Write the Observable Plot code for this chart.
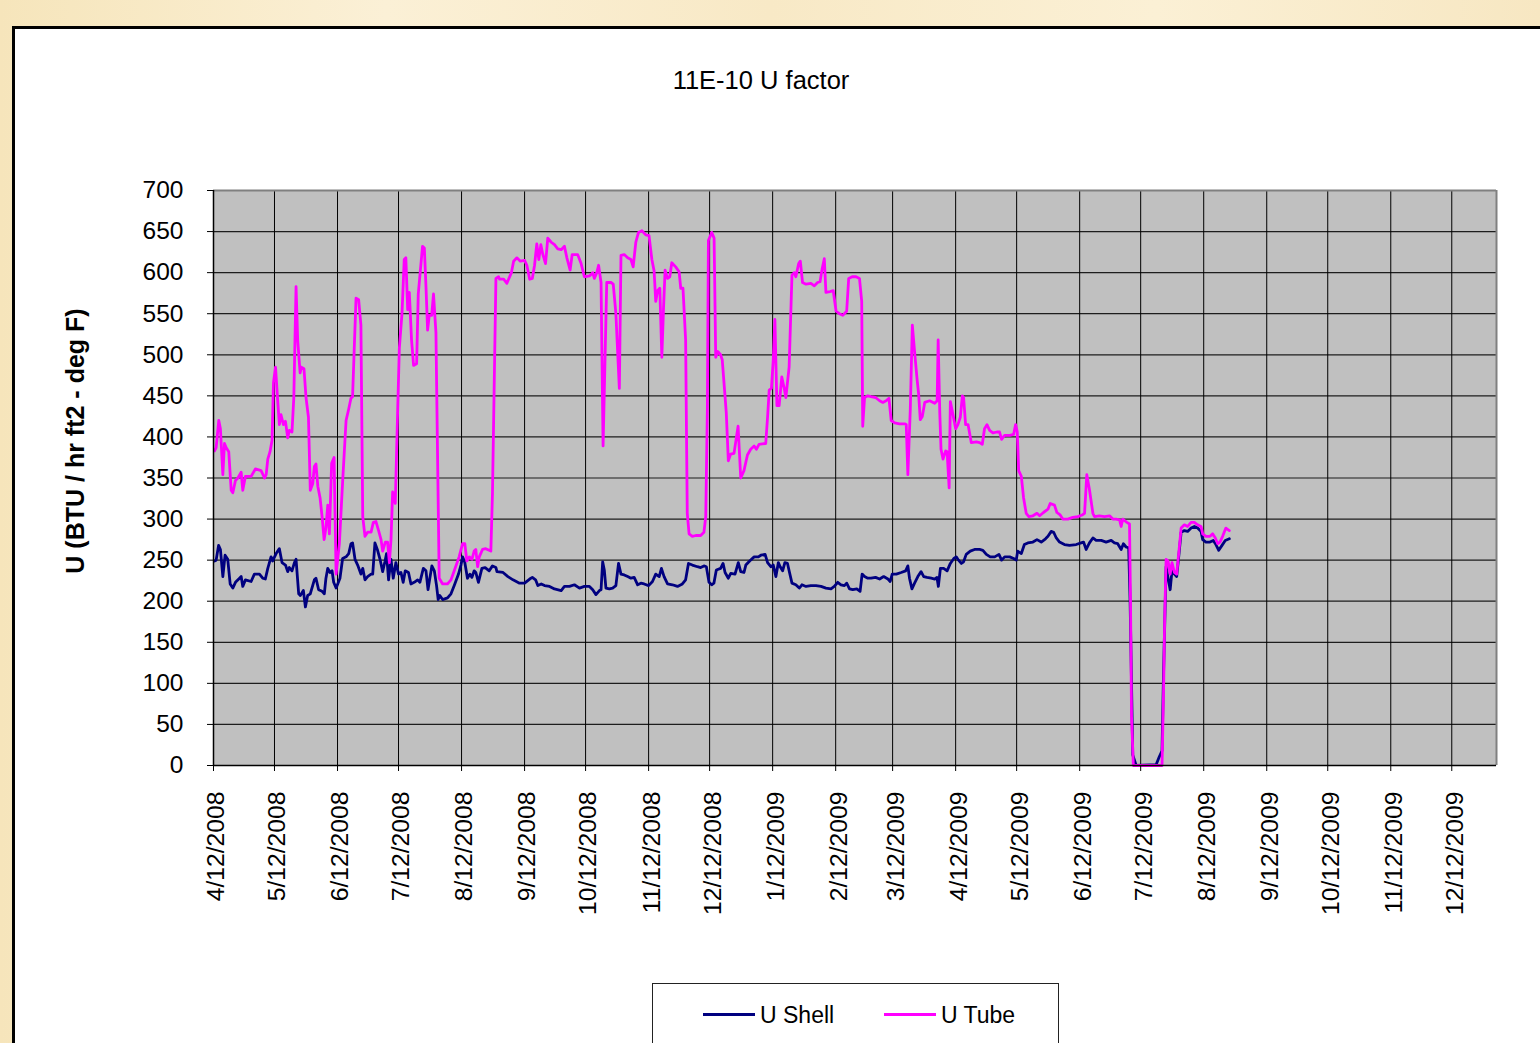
<!DOCTYPE html>
<html>
<head>
<meta charset="utf-8">
<script src="https://cdn.jsdelivr.net/npm/d3@7"></script>
<script src="https://cdn.jsdelivr.net/npm/@observablehq/plot@0.6"></script>
<style>
html,body{margin:0;padding:0;width:1540px;height:1043px;overflow:hidden;
  background:linear-gradient(90deg,#F6E5BB 0%,#FBF0D6 25%,#F8E9C6 50%,#FBF0D5 75%,#F7E7C2 100%);
  font-family:"Liberation Sans",Arial,sans-serif;}
#frame{position:absolute;left:12px;top:26px;width:1560px;height:1100px;border:3px solid #000;background:#fff;box-sizing:border-box;}
#chart{position:absolute;left:0;top:0;}
#title{position:absolute;left:0;width:1522px;top:66px;text-align:center;font-size:25.5px;line-height:28px;color:#000;}
#ylabel{position:absolute;left:75px;top:441px;transform:translate(-50%,-50%) rotate(-90deg);font-size:25px;font-weight:bold;white-space:nowrap;line-height:28px;color:#000;}
#legend{position:absolute;left:652px;top:983px;width:407px;height:120px;border:1px solid #222;background:#fff;box-sizing:border-box;}
#legend .sw{position:absolute;height:3px;width:52px;top:29px;}
#legend .lb{position:absolute;top:17px;font-size:23px;line-height:28px;white-space:nowrap;color:#000;}
</style>
</head>
<body>
<div id="frame"></div>
<div id="chart"></div>
<div id="title"></div>
<div id="ylabel"></div>
<div id="legend"></div>
<script>
// ---- data (days since 4/12/2008, values in BTU / hr ft2 - deg F) ----
const titleText = "11E-10 U factor";
const yLabelText = "U (BTU / hr ft2 - deg F)";
const seriesNames = ["U Shell", "U Tube"];
const seriesColors = ["#000080", "#FF00FF"];
const tickLabels = ["4/12/2008","5/12/2008","6/12/2008","7/12/2008","8/12/2008","9/12/2008","10/12/2008","11/12/2008","12/12/2008","1/12/2009","2/12/2009","3/12/2009","4/12/2009","5/12/2009","6/12/2009","7/12/2009","8/12/2009","9/12/2009","10/12/2009","11/12/2009","12/12/2009"];
const yTicks = [0,50,100,150,200,250,300,350,400,450,500,550,600,650,700];
const axisEndDay = 631;

const tubeDays = [0.5,1.3,2.6,3.4,4.6,5.4,6.2,7.5,8.7,9.5,10.8,12.0,13.6,14.4,15.7,18.5,20.6,23.4,25.1,25.9,26.7,27.8,28.8,29.5,30.5,31.6,32.4,33.2,34.4,35.4,36.5,37.3,38.6,39.5,40.6,41.4,42.6,43.2,44.5,45.5,46.7,47.6,48.8,49.6,50.4,51.3,52.4,53.4,54.4,55.3,56.2,57.0,58.1,59.3,60.3,60.7,61.9,63.5,65.2,66.5,67.6,68.4,69.3,70.1,71.4,72.5,73.4,74.5,75.8,77.5,78.6,79.9,81.2,82.4,83.2,84.5,85.6,86.5,87.3,88.1,89.4,90.6,91.4,92.7,93.8,94.6,95.5,96.3,97.4,98.4,99.9,100.7,102.8,103.7,104.5,105.3,106.1,107.3,108.2,109.4,111.0,112.7,115.1,116.8,118.4,120.8,122.5,123.6,124.6,125.8,127.1,128.2,129.0,129.9,130.7,132.3,133.9,136.4,137.2,138.9,140.2,
140.7,142.7,144.3,146.5,147.6,149.2,150.9,153,154.1,155.5,156.8,157.9,159,160,161,161.9,163.3,164.4,166.1,167.7,169.3,171,172.6,173.8,175.4,176.4,179.1,180.8,182.4,184.9,186.5,187.3,188.5,189.4,190.6,191.6,193.4,195.5,196.6,197.9,199.6,200.4,202,203.7,205.3,206.4,207.7,209,210.7,212.6,214.2,215.6,216.7,217.5,218.4,219.5,220.5,221.3,222.1,223.3,224.4,225.4,227.3,229,229.8,230.9,232.2,233,233.9,235.5,237.2,239.6,241.2,242.1,242.9,243.4,245,246.2,247,248,249.4,250.2,251.5,252.2,253.2,254.3,256,258,
259.3,260.9,262.6,264.2,265.9,267,268.3,271.6,272.5,273.3,274.4,275.3,276.1,277.1,278.2,279.5,280.7,281.5,283.1,284.5,285.6,286.4,287.8,288.6,289.7,291.4,293.8,295.5,297.1,298.3,299.3,300.4,301.2,303.2,304.8,306.2,307.8,309.5,311.4,312.4,314.1,316,317.7,318.8,319.3,320.2,321.8,323.4,325.6,327.6,329.2,330.8,332.2,333.3,335,337.4,339.9,340.7,341.5,342.7,343.7,344.8,346,346.8,347.6,348.6,349.8,352.2,354.7,355.9,356.4,357.2,357.8,358.8,360.1,360.8,361.8,362.4,363.7,365,
366.1,367.3,368.3,368.9,369.9,371.1,372.7,375.2,376.8,378.1,379.2,380.4,381.7,383.3,385.3,386.6,387.6,389.1,391.6,393.5,394.5,395.3,396,397.3,398.4,399.7,401,403,405,406.3,408.2,410.4,411.5,413.6,414.8,416.4,417.7,420.2,422.6,425.1,427.2,428.4,429.5,430.8,432.5,433.3,435.7,438.2,440.7,442.3,443.9,445.6,446.4,447.2,448.2,449.2,450.5,451,451.5,452.4,466.5,467.2,467.8,468.5,469.5,470.5,471.4,472.6,473.7,474.7,475.9,477.5,479.1,480.8,482.4,484,485.7,486.5,488.1,490.1,491.4,492.7,493.9,495,496.3,497.9,499.6];
const tubeValues = [383,387,420,410,354,392,387,382,335,332,347,350,357,335,352,352,361,359,350,354,373,382,396,466,485,443,415,427,415,419,399,408,406,448,583,518,478,485,483,448,424,335,343,364,367,340,326,303,275,289,317,282,368,375,233,242,270,345,420,434,447,449,513,569,567,536,303,279,284,284,296,297,286,275,261,272,272,247,275,333,319,434,508,550,616,618,555,576,518,487,489,574,632,630,583,530,548,548,574,527,228,221,221,226,237,254,270,270,249,254,251,261,263,242,254,263,264,261,331,593,595,
592,592,587,600,614,618,614,615,609,592,593,609,635,616,634,623,611,642,637,634,629,628,632,618,603,622,622,611,595,596,600,593,600,609,588,389,588,588,586,550,459,621,622,618,616,607,637,649,651,646,645,616,602,565,578,581,497,555,603,593,595,612,607,601,581,581,518,307,282,279,280,280,284,303,434,639,649,642,497,504,500,494,452,429,371,379,380,413,
350,359,378,385,389,385,391,392,424,457,459,494,543,438,438,473,459,448,485,597,600,595,611,614,588,586,587,584,588,589,604,617,576,577,578,553,550,548,553,593,595,595,593,565,413,448,450,449,448,444,442,444,447,420,417,416,416,415,354,434,536,504,471,452,421,425,442,444,441,444,518,429,385,373,383,382,338,443,427,410,
415,424,450,448,415,415,393,394,393,391,410,415,408,405,406,406,397,402,402,403,415,406,359,352,326,307,303,304,307,304,308,312,319,317,308,305,300,300,302,303,305,307,354,336,307,303,304,303,304,300,300,299,291,300,298,296,294,200,60,0,0,83,177,251,249,233,247,235,233,258,289,293,291,296,296,293,291,282,279,279,282,277,270,272,279,289,286];

const shellDays = [0.5,1.3,2.5,3.4,4.6,5.7,7,8.2,9.5,10.8,12.8,13.6,14.4,15.7,18.5,20.1,22.6,24.2,25.5,26.7,28.3,29.1,30.8,32.4,33.7,35.4,36.5,37.3,38.6,39.8,40.6,41.9,42.7,44.2,45.2,46.3,47.6,49.6,50.4,51.7,53.4,54.5,55.3,56.2,57.3,58.3,59.1,60.3,61.1,62.2,63.5,65.2,66.5,67.6,68.4,69.6,70.9,72.5,73.4,74.5,75.8,77.5,78.3,79.4,80.7,81.9,83.2,84.3,85.1,86.1,87.3,88.4,89.7,91,92.2,93.3,94.3,95.9,97.1,98.7,100.4,101.5,103.2,104.5,105.5,106.4,107.4,108.6,109.7,110.5,111.3,112.7,115.1,116.8,118.4,120.5,121.7,122.5,123.6,124.9,126.1,127.1,128.2,129,130.3,132,133.6,135.6,137.2,138.9,
139.4,142.4,144.8,147.3,150.5,153,155.5,156.8,158.4,159.5,161.2,162.8,165.3,167.7,171,172.6,175.1,177.5,180,182.4,184.9,186.5,188.1,189.8,190.6,191.4,192.2,193,194.7,196.3,197.9,199.2,200.4,202,203.7,205.3,206.9,208.6,210.2,211.8,214,215.9,217.5,219.2,220.3,221.6,223.3,225.7,228.2,230.6,232.2,233.6,235.5,238,239.6,241.2,242.4,
243.7,245,246.1,247.3,249.4,250.6,251.6,253.2,254.4,256.5,258.1,259.3,260.9,261.8,263.7,265.9,268,269.2,271.3,272.5,274.1,275.3,276.6,277.8,278.7,279.9,281,282.3,283.1,284.5,286.4,288.1,289.4,291.4,293.8,296.3,298.8,301.2,303.7,305.3,307,308.6,310.3,311.4,312.8,314.4,316.4,318,319,320.2,321.8,323.4,325.6,327.6,329.6,331.7,332.8,333.8,335.8,338.2,340.4,341.5,342.3,343.5,344.8,346.4,348,349.3,350.9,353,354.7,355.8,356.5,357.5,359.1,360.8,362.4,364.1,365.3,
366.1,367.8,368.9,370.2,372.2,374.3,376.8,378.4,380.1,382,384.2,386.3,387.6,389.1,391.6,393.5,394.8,395.5,397.3,398.8,400.5,403,405,407.1,409.2,410.4,412,413.2,414.5,416.1,418.5,421,424.3,426.7,427.9,429.2,430.8,432.5,434.1,436.6,439,441.5,443.1,444.7,446.4,447.5,448.8,450.1,450.8,452.1,453.8,463.6,465.2,466.5,467.2,468.5,469.5,470.5,471.4,472.6,473.7,474.7,475.9,477.5,479.1,480.8,482.4,484,485.7,486.5,488.1,490.1,491.7,493,494.4,496,497.6,499.6];
const shellValues = [249,250,268,263,230,256,251,221,216,223,228,230,218,226,224,233,233,228,227,240,254,249,258,264,247,244,236,241,237,247,251,209,207,213,193,207,209,226,228,214,212,209,228,240,235,237,223,216,221,228,252,254,258,270,271,251,244,233,240,226,230,233,233,271,262,251,236,248,258,226,251,228,247,233,235,223,237,235,221,223,226,223,240,237,214,228,243,237,219,202,207,202,204,209,219,233,244,254,247,228,233,229,237,235,223,240,241,237,243,241,
236,235,230,226,222,222,227,229,226,219,221,219,218,215,213,218,218,220,216,218,218,214,208,213,214,248,238,216,215,216,219,246,233,232,230,228,229,220,222,221,219,224,233,230,240,230,221,220,218,221,226,246,244,242,241,243,242,
223,220,222,238,240,246,235,228,234,233,247,236,235,244,249,254,254,256,257,247,242,244,230,247,242,237,247,246,237,222,220,216,220,218,219,219,218,216,215,218,223,220,219,222,215,214,215,212,233,230,228,228,229,227,230,227,224,233,233,235,237,243,228,215,222,230,236,230,229,228,227,229,218,240,240,237,246,252,254,
251,246,248,257,261,263,263,262,257,254,254,257,250,254,254,252,250,261,258,269,271,272,275,272,276,279,285,284,277,272,269,268,269,271,272,263,271,277,274,274,272,274,271,270,263,270,266,265,200,13,0,1,11,18,107,242,228,214,237,233,230,254,284,286,285,289,291,289,285,275,272,272,274,269,262,268,274,276];

// ---- build ----
const start = Date.UTC(2008, 3, 12);
const toDate = d => new Date(start + d * 864e5);
const shell = shellDays.map((d, i) => ({date: toDate(d), v: shellValues[i]}));
const tube = tubeDays.map((d, i) => ({date: toDate(d), v: tubeValues[i]}));
const xTicks = tickLabels.map(s => { const [m, d, y] = s.split("/").map(Number); return new Date(Date.UTC(y, m - 1, d)); });
const fmt = d => `${d.getUTCMonth() + 1}/${d.getUTCDate()}/${d.getUTCFullYear()}`;

const chart = Plot.plot({
  width: 1540, height: 1043,
  marginLeft: 213, marginRight: 44, marginTop: 190, marginBottom: 278,
  style: {background: "transparent", fontFamily: "Liberation Sans, Arial, sans-serif", fontSize: "24.5px", color: "#000", overflow: "visible"},
  x: {type: "utc", domain: [toDate(0), toDate(axisEndDay)], label: null},
  y: {domain: [0, 700], label: null},
  marks: [
    Plot.frame({fill: "#C0C0C0", stroke: null}),
    Plot.gridX(xTicks, {stroke: "#000", strokeOpacity: 1, strokeWidth: 1}),
    Plot.gridY(yTicks, {stroke: "#000", strokeOpacity: 0.85, strokeWidth: 1.2}),
    Plot.ruleX([toDate(axisEndDay)], {stroke: "#808080", strokeWidth: 2}),
    Plot.ruleY([700], {stroke: "#808080", strokeWidth: 2}),
    Plot.line(shell, {x: "date", y: "v", stroke: seriesColors[0], strokeWidth: 2.8}),
    Plot.line(tube, {x: "date", y: "v", stroke: seriesColors[1], strokeWidth: 2.8}),
    Plot.ruleX([toDate(0)], {stroke: "#000", strokeWidth: 1.5}),
    Plot.ruleY([0], {stroke: "#000", strokeWidth: 1.5}),
    Plot.axisY(yTicks, {tickSize: 6, tickPadding: 24, fontSize: 24.5, label: null}),
    Plot.axisX(xTicks, {tickSize: 6, text: null, label: null}),
    Plot.axisX(xTicks, {tickSize: 0, tickPadding: 26, tickRotate: -90, tickFormat: fmt, fontSize: 24.7, label: null, dx: 3, textStroke: null})
  ]
});
document.getElementById("chart").appendChild(chart);
document.getElementById("title").textContent = titleText;
document.getElementById("ylabel").textContent = yLabelText;

const legend = document.getElementById("legend");
const swX = [50, 231], lbX = [107, 288];
seriesNames.forEach((name, i) => {
  const sw = document.createElement("div");
  sw.className = "sw"; sw.style.left = swX[i] + "px"; sw.style.background = seriesColors[i];
  const lb = document.createElement("div");
  lb.className = "lb"; lb.style.left = lbX[i] + "px"; lb.textContent = name;
  legend.appendChild(sw); legend.appendChild(lb);
});
</script>
</body>
</html>
